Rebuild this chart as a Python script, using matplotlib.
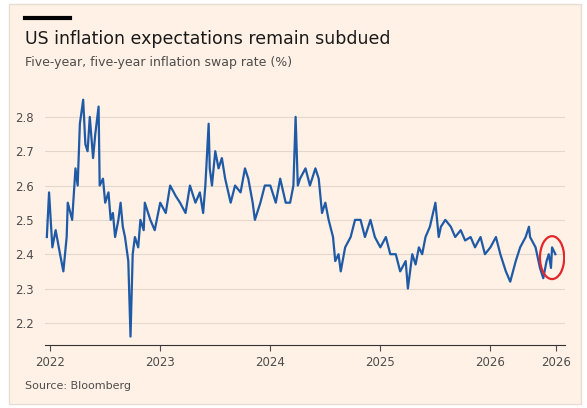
import matplotlib.pyplot as plt
from matplotlib.patches import Ellipse

# decimal years (axis as labelled in the source chart) and swap rate %
years = [2021.97, 2021.99, 2022.02, 2022.05, 2022.09, 2022.12, 2022.15, 2022.16, 2022.20, 2022.23,
         2022.25, 2022.27, 2022.30, 2022.32, 2022.34, 2022.36, 2022.39, 2022.41, 2022.44, 2022.45,
         2022.48, 2022.50, 2022.53, 2022.55, 2022.57, 2022.59, 2022.62, 2022.64, 2022.66, 2022.68,
         2022.71, 2022.73, 2022.75, 2022.77, 2022.80, 2022.82, 2022.85, 2022.86, 2022.89, 2022.91,
         2022.95, 2023.00, 2023.05, 2023.09, 2023.14, 2023.18, 2023.23, 2023.27, 2023.32, 2023.36,
         2023.39, 2023.41, 2023.44, 2023.45, 2023.47, 2023.50, 2023.53, 2023.56, 2023.59, 2023.64,
         2023.68, 2023.73, 2023.77, 2023.80, 2023.84, 2023.86, 2023.91, 2023.95, 2024.00, 2024.05,
         2024.09, 2024.14, 2024.18, 2024.21, 2024.23, 2024.25, 2024.27, 2024.32, 2024.36, 2024.41,
         2024.44, 2024.47, 2024.50, 2024.53, 2024.57, 2024.59, 2024.62, 2024.64, 2024.68, 2024.73,
         2024.77, 2024.82, 2024.86, 2024.91, 2024.95, 2025.00, 2025.05, 2025.09, 2025.14, 2025.18,
         2025.23, 2025.25, 2025.29, 2025.32, 2025.35, 2025.38, 2025.41, 2025.45, 2025.50, 2025.53,
         2025.55, 2025.59, 2025.64, 2025.68, 2025.73, 2025.77, 2025.82, 2025.86, 2025.91, 2025.95,
         2026.00, 2026.05, 2026.09, 2026.14, 2026.18, 2026.23, 2026.27, 2026.32, 2026.35, 2026.36,
         2026.41, 2026.45, 2026.48, 2026.51, 2026.53, 2026.55, 2026.56, 2026.59]
rate = [2.45, 2.58, 2.42, 2.47, 2.40, 2.35, 2.45, 2.55, 2.50, 2.65,
        2.60, 2.78, 2.85, 2.72, 2.70, 2.80, 2.68, 2.75, 2.83, 2.60,
        2.62, 2.55, 2.58, 2.50, 2.52, 2.45, 2.50, 2.55, 2.48, 2.45,
        2.38, 2.16, 2.40, 2.45, 2.42, 2.50, 2.47, 2.55, 2.52, 2.50,
        2.47, 2.55, 2.52, 2.60, 2.57, 2.55, 2.52, 2.60, 2.55, 2.58,
        2.52, 2.60, 2.78, 2.65, 2.60, 2.70, 2.65, 2.68, 2.62, 2.55,
        2.60, 2.58, 2.65, 2.62, 2.55, 2.50, 2.55, 2.60, 2.60, 2.55,
        2.62, 2.55, 2.55, 2.60, 2.80, 2.60, 2.62, 2.65, 2.60, 2.65,
        2.62, 2.52, 2.55, 2.50, 2.45, 2.38, 2.40, 2.35, 2.42, 2.45,
        2.50, 2.50, 2.45, 2.50, 2.45, 2.42, 2.45, 2.40, 2.40, 2.35,
        2.38, 2.30, 2.40, 2.37, 2.42, 2.40, 2.45, 2.48, 2.55, 2.45,
        2.48, 2.50, 2.48, 2.45, 2.47, 2.44, 2.45, 2.42, 2.45, 2.40,
        2.42, 2.45, 2.40, 2.35, 2.32, 2.38, 2.42, 2.45, 2.48, 2.45,
        2.42, 2.36, 2.33, 2.38, 2.40, 2.36, 2.42, 2.40]

tick_pos = [2022, 2023, 2024, 2025, 2026, 2026.6]
tick_labels = ['2022', '2023', '2024', '2025', '2026', '2026']
y_ticks = [2.2, 2.3, 2.4, 2.5, 2.6, 2.7, 2.8]

bg = '#FFF1E5'
fig = plt.figure(figsize=(5.87, 4.08), dpi=100, facecolor='white')
fig.patches.append(plt.Rectangle((0.015, 0.01), 0.975, 0.98, transform=fig.transFigure,
                                 facecolor=bg, edgecolor='#e8ddd3', zorder=-1))
ax = fig.add_axes([0.077, 0.154, 0.886, 0.626], facecolor=bg)

ax.plot(years, rate, color='#1f5aa6', lw=1.6, zorder=3)
ax.add_patch(Ellipse((2026.56, 2.39), 0.22, 0.125, fill=False, edgecolor='#e3262b', lw=1.6, zorder=4))

ax.set_xlim(2021.955, 2026.68)
ax.set_ylim(2.135, 2.879)
ax.set_yticks(y_ticks)
ax.set_yticklabels([f'{v:.1f}' for v in y_ticks])
ax.set_xticks(tick_pos)
ax.set_xticklabels(tick_labels)
ax.grid(axis='y', color='#e3d8cd', lw=0.8)
ax.set_axisbelow(True)
for s in ['top', 'right', 'left']:
    ax.spines[s].set_visible(False)
ax.spines['bottom'].set_color('#333333')
ax.tick_params(axis='y', length=0, labelsize=8.5, colors='#4d4d4d', pad=8)
ax.tick_params(axis='x', length=4, labelsize=8.5, colors='#4d4d4d')

fig.add_artist(plt.Line2D([0.043, 0.12], [0.955, 0.955], color='black', lw=3, transform=fig.transFigure))
fig.text(0.043, 0.905, 'US inflation expectations remain subdued', fontsize=12.5, color='#1a1a1a', va='center')
fig.text(0.043, 0.848, 'Five-year, five-year inflation swap rate (%)', fontsize=9, color='#4d4d4d', va='center')
fig.text(0.043, 0.055, 'Source: Bloomberg', fontsize=8, color='#4d4d4d', va='center')

fig.savefig('out.png', dpi=100, facecolor='white')
